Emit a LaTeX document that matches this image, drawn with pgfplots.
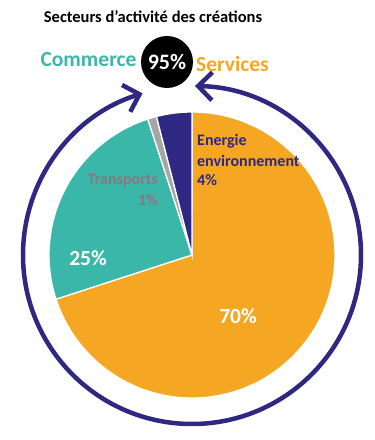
\documentclass[border=0pt]{standalone}
\usepackage{pgfplots}
\pgfplotsset{compat=1.18}
\usepackage{fontspec}
\setmainfont{Carlito}
\usetikzlibrary{arrows.meta}
\definecolor{servorange}{HTML}{F5A724}
\definecolor{commteal}{HTML}{3BB7AA}
\definecolor{transgray}{HTML}{A6A6A6}
\definecolor{energpurple}{HTML}{2E2882}
\definecolor{translabel}{HTML}{8B7680}
\begin{document}
\begin{tikzpicture}
\begin{axis}[x=1pt,y=1pt,xmin=-192,xmax=183,ymin=-185,ymax=255,
  hide axis,clip=false]
\path (axis cs:-192,-185) rectangle (axis cs:183,255);
% ring with arrows
\draw[energpurple,line width=4.5pt,-{Straight Barb[length=14pt,width=28pt]}]
  (axis cs:0,-169) arc[start angle=270,end angle=107,radius=169pt];
\draw[energpurple,line width=4.5pt,-{Straight Barb[length=14pt,width=28pt]}]
  (axis cs:0,-169) arc[start angle=-90,end angle=89,radius=169pt];
% pie slices: Services 70, Commerce 25, Transports 1, Energie 4
\fill[servorange,draw=white,line width=1.3pt] (axis cs:0,0) -- (axis cs:{143*cos(90)},{143*sin(90)})
  arc[start angle=90,delta angle=-3.6*70,radius=143pt] -- cycle;
\fill[commteal,draw=white,line width=1.3pt] (axis cs:0,0) -- (axis cs:{143*cos(90-3.6*70)},{143*sin(90-3.6*70)})
  arc[start angle=90-3.6*70,delta angle=-3.6*25,radius=143pt] -- cycle;
\fill[transgray,draw=white,line width=1.3pt] (axis cs:0,0) -- (axis cs:{143*cos(90-3.6*95)},{143*sin(90-3.6*95)})
  arc[start angle=90-3.6*95,delta angle=-3.6*1,radius=143pt] -- cycle;
\fill[energpurple,draw=white,line width=1.3pt] (axis cs:0,0) -- (axis cs:{143*cos(90-3.6*96)},{143*sin(90-3.6*96)})
  arc[start angle=90-3.6*96,delta angle=-3.6*4,radius=143pt] -- cycle;
% black circle
\fill[black] (axis cs:-25,193) circle[radius=26pt];
\node[text=white,font=\bfseries\fontsize{22}{22}\selectfont] at (axis cs:-25,193) {95\%};
% texts
\node[font=\bfseries\fontsize{16.5}{16.5}\selectfont] at (axis cs:-39,238) {Secteurs d’activité des créations};
\node[text=commteal,font=\bfseries\fontsize{21.5}{21.5}\selectfont] at (axis cs:-103.5,195) {Commerce};
\node[text=servorange,font=\bfseries\fontsize{21.5}{21.5}\selectfont] at (axis cs:40.5,191) {Services};
\node[text=energpurple,font=\bfseries\fontsize{16}{16}\selectfont,anchor=west,inner sep=0pt] at (axis cs:5,114) {Energie};
\node[text=energpurple,font=\bfseries\fontsize{16}{16}\selectfont,anchor=west,inner sep=0pt] at (axis cs:5,94) {environnement};
\node[text=energpurple,font=\bfseries\fontsize{16}{16}\selectfont,anchor=west,inner sep=0pt] at (axis cs:5,75) {4\%};
\node[text=translabel,font=\bfseries\fontsize{16}{16}\selectfont,anchor=east,inner sep=0pt] at (axis cs:-34,74) {Transports};
\node[text=translabel,font=\bfseries\fontsize{16}{16}\selectfont,anchor=east,inner sep=0pt] at (axis cs:-34,55) {1\%};
\node[text=white,font=\bfseries\fontsize{21.5}{21.5}\selectfont] at (axis cs:-104,-3) {25\%};
\node[text=white,font=\bfseries\fontsize{21.5}{21.5}\selectfont] at (axis cs:46,-61) {70\%};
\end{axis}
\end{tikzpicture}
\end{document}
